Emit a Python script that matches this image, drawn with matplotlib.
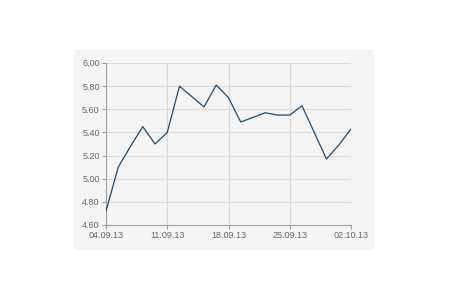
import matplotlib
matplotlib.use("Agg")
import matplotlib.pyplot as plt
from matplotlib.patches import Rectangle

# trading days, 04.09.13 .. 02.10.13
dates = ["04.09.13", "05.09.13", "06.09.13", "09.09.13", "10.09.13",
         "11.09.13", "12.09.13", "13.09.13", "16.09.13", "17.09.13",
         "18.09.13", "19.09.13", "20.09.13", "23.09.13", "24.09.13",
         "25.09.13", "26.09.13", "27.09.13", "30.09.13", "01.10.13",
         "02.10.13"]
values = [4.72, 5.10, 5.28, 5.45, 5.30,
          5.40, 5.80, 5.71, 5.62, 5.81,
          5.70, 5.49, 5.53, 5.57, 5.55,
          5.55, 5.63, 5.40, 5.17, 5.29,
          5.43]
label_dates = ["04.09.13", "11.09.13", "18.09.13", "25.09.13", "02.10.13"]
y_ticks = [4.6, 4.8, 5.0, 5.2, 5.4, 5.6, 5.8, 6.0]

plt.rcParams["font.family"] = ["Liberation Sans", "DejaVu Sans"]

fig = plt.figure(figsize=(4.5, 3), dpi=100)
fig.patch.set_facecolor("white")
# light grey panel behind the chart
fig.patches.append(Rectangle((74 / 450, 50 / 300), 300 / 450, 200 / 300,
                             transform=fig.transFigure, facecolor="#f5f5f5",
                             edgecolor="none", zorder=-1))

ax = fig.add_axes([106 / 450, 75 / 300, 245 / 450, 162 / 300])
ax.set_facecolor("none")
ax.set_zorder(1)

x = list(range(len(dates)))
ax.plot(x, values, color="#1f4b6e", lw=0.9, zorder=3)

ax.set_xlim(0, len(dates) - 1)
ax.set_ylim(4.6, 6.0)
ax.set_xticks([dates.index(d) for d in label_dates])
ax.set_xticklabels(label_dates)
ax.set_yticks(y_ticks)
ax.set_yticklabels(["%.2f" % v for v in y_ticks])

ax.grid(True, color="#dadada", lw=0.8)
ax.set_axisbelow(True)
for s in ["top", "right"]:
    ax.spines[s].set_visible(False)
for s in ["left", "bottom"]:
    ax.spines[s].set_color("#a0a0a0")
    ax.spines[s].set_linewidth(0.8)
ax.tick_params(axis="both", length=3, width=0.8, color="#a0a0a0",
               labelsize=6.5, labelcolor="#666666", pad=1.5)

fig.savefig("out.png", dpi=100)
